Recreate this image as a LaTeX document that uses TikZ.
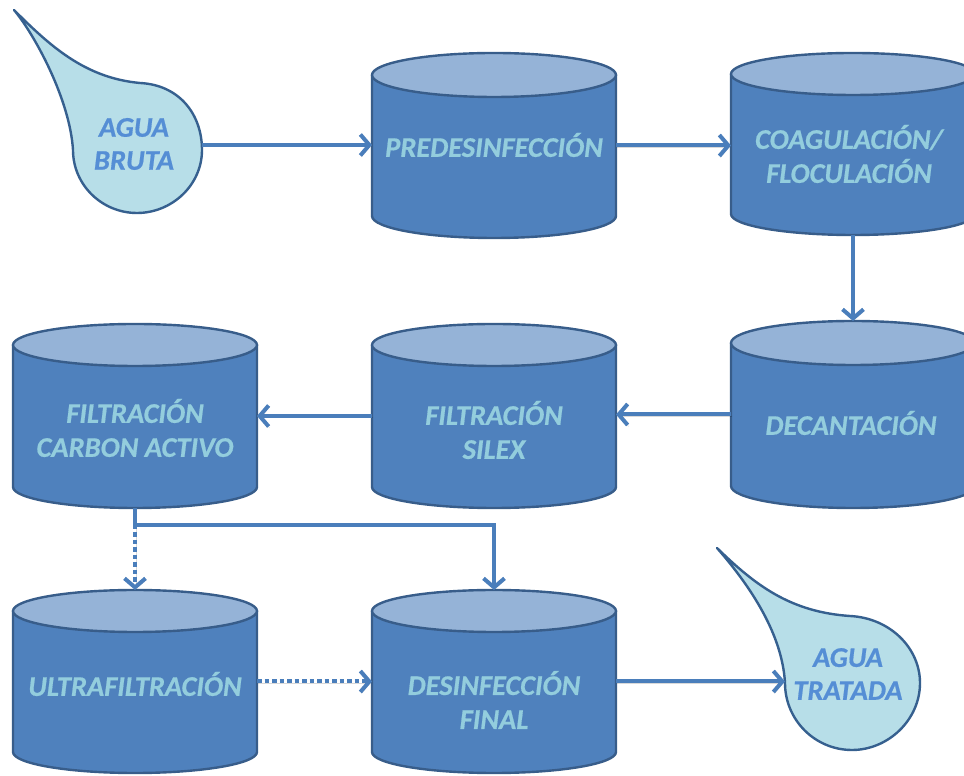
\documentclass[tikz,border=0pt]{standalone}
\usepackage{fontspec}
\setmainfont{Carlito}[BoldItalicFeatures={FakeBold=0.6}]
\usetikzlibrary{arrows.meta}
\definecolor{cylbody}{HTML}{4F81BD}
\definecolor{cyltop}{HTML}{95B3D7}
\definecolor{cylline}{HTML}{385D8A}
\definecolor{cyltxt}{HTML}{93CDDD}
\definecolor{arrowc}{HTML}{4A7EBB}
\definecolor{dropfill}{HTML}{B7DEE8}
\definecolor{dropline}{HTML}{36608F}
\definecolor{droptxt}{HTML}{558ED5}
\tikzset{
  cylshape/.style={fill=cylbody, draw=cylline, line width=2.4pt, line join=round},
  cyltopshape/.style={fill=cyltop, draw=cylline, line width=2.4pt},
  cyltext/.style={text=cyltxt, align=center, inner sep=0pt, font=\fontsize{28.5}{34}\selectfont\bfseries\itshape},
  dropshape/.style={fill=dropfill, draw=dropline, line width=2.4pt, line join=round},
  droptext/.style={text=droptxt, align=center, inner sep=0pt, font=\fontsize{28.5}{33}\selectfont\bfseries\itshape},
  shade/.style={preaction={draw=black, opacity=0.15, transform canvas={shift={(1pt,-1.5pt)}}}},
  flow/.style={draw=arrowc, line width=4pt, shade, -{Straight Barb[length=9pt,width=21pt]}},
  flowdot/.style={flow, dash pattern=on 4.5pt off 3pt}
}
% #1 name, #2 cx, #3 top ellipse cy, #4 bottom ellipse cy, #5 ry
\newcommand\mycyl[5]{%
  \path[cylshape] ({#2-122},#3) -- ({#2-122},#4)
     arc[start angle=180,end angle=360,x radius=122,y radius=#5] -- ({#2+122},#3);
  \path[cyltopshape] (#2,#3) ellipse[x radius=122,y radius=#5];
  \coordinate (#1-w) at ({#2-122},{(#3+#4)/2});
  \coordinate (#1-e) at ({#2+122},{(#3+#4)/2});
  \coordinate (#1-t) at (#2,{#3+#5});
  \coordinate (#1-b) at (#2,{#4-#5});
}
\begin{document}
\begin{tikzpicture}[x=1pt,y=1pt]
\useasboundingbox (0,0) rectangle (964,776);
\clip (0,0) rectangle (964,776);

% drops
\path[dropshape] (14,766) .. controls (50,730) and (85,698) .. (140,693)
  .. controls (180,691) and (202,661) .. (202,626)
  .. controls (202,591) and (172,563) .. (137,563)
  .. controls (102,563) and (73,591) .. (73,626)
  .. controls (70,676) and (35,741) .. (14,766) -- cycle;
\coordinate (bruta-e) at (202,631);
\node[droptext] (bruta) at (134,632) {AGUA\\BRUTA};

\path[dropshape] (717,228) .. controls (755,191) and (790,164) .. (850,160)
  .. controls (890,158) and (920,128) .. (920,93)
  .. controls (920,56) and (888,26) .. (852,26)
  .. controls (815,26) and (785,56) .. (785,93)
  .. controls (782,146) and (745,196) .. (717,228) -- cycle;
\coordinate (tratada-w) at (785,94);
\node[droptext] (tratada) at (848,102) {AGUA\\TRATADA};

% cylinders
\mycyl{pre}{494}{701}{560}{22}
\node[cyltext] (pretxt) at (494,631) {PREDESINFECCIÓN};
\mycyl{coag}{853}{702}{562}{21}
\node[cyltext] (coagtxt) at (849,622) {COAGULACIÓN/\\FLOCULACIÓN};
\mycyl{carb}{135}{431}{289}{21}
\node[cyltext] (carbtxt) at (135,348) {FILTRACIÓN\\CARBON ACTIVO};
\mycyl{silex}{494}{431}{289}{21}
\node[cyltext] (silextxt) at (494,346) {FILTRACIÓN\\SILEX};
\mycyl{dec}{853}{433}{290}{22}
\node[cyltext] (dectxt) at (851,353) {DECANTACIÓN};
\mycyl{ultra}{135}{165}{24}{21}
\node[cyltext] (ultratxt) at (135,92) {ULTRAFILTRACIÓN};
\mycyl{des}{494}{165}{24}{21}
\node[cyltext] (destxt) at (494,76) {DESINFECCIÓN\\FINAL};

% connectors
\coordinate (split) at (135,251);
\draw[flow] (bruta-e) -- (bruta-e -| pre-w);
\draw[flow] (pre-e) -- (pre-e -| coag-w);
\draw[flow] (coag-b) -- (dec-t);
\draw[flow] (dec-w) -- (dec-w -| silex-e);
\draw[flow] (silex-w) -- (silex-w -| carb-e);
\draw[flow] (carb-b) -- (split) -| (des-t);
\draw[flowdot] (split) -- (ultra-t);
\draw[flowdot] (ultra-e) -- (ultra-e -| des-w);
\draw[flow] (des-e) -- (des-e -| tratada-w);
\end{tikzpicture}
\end{document}
